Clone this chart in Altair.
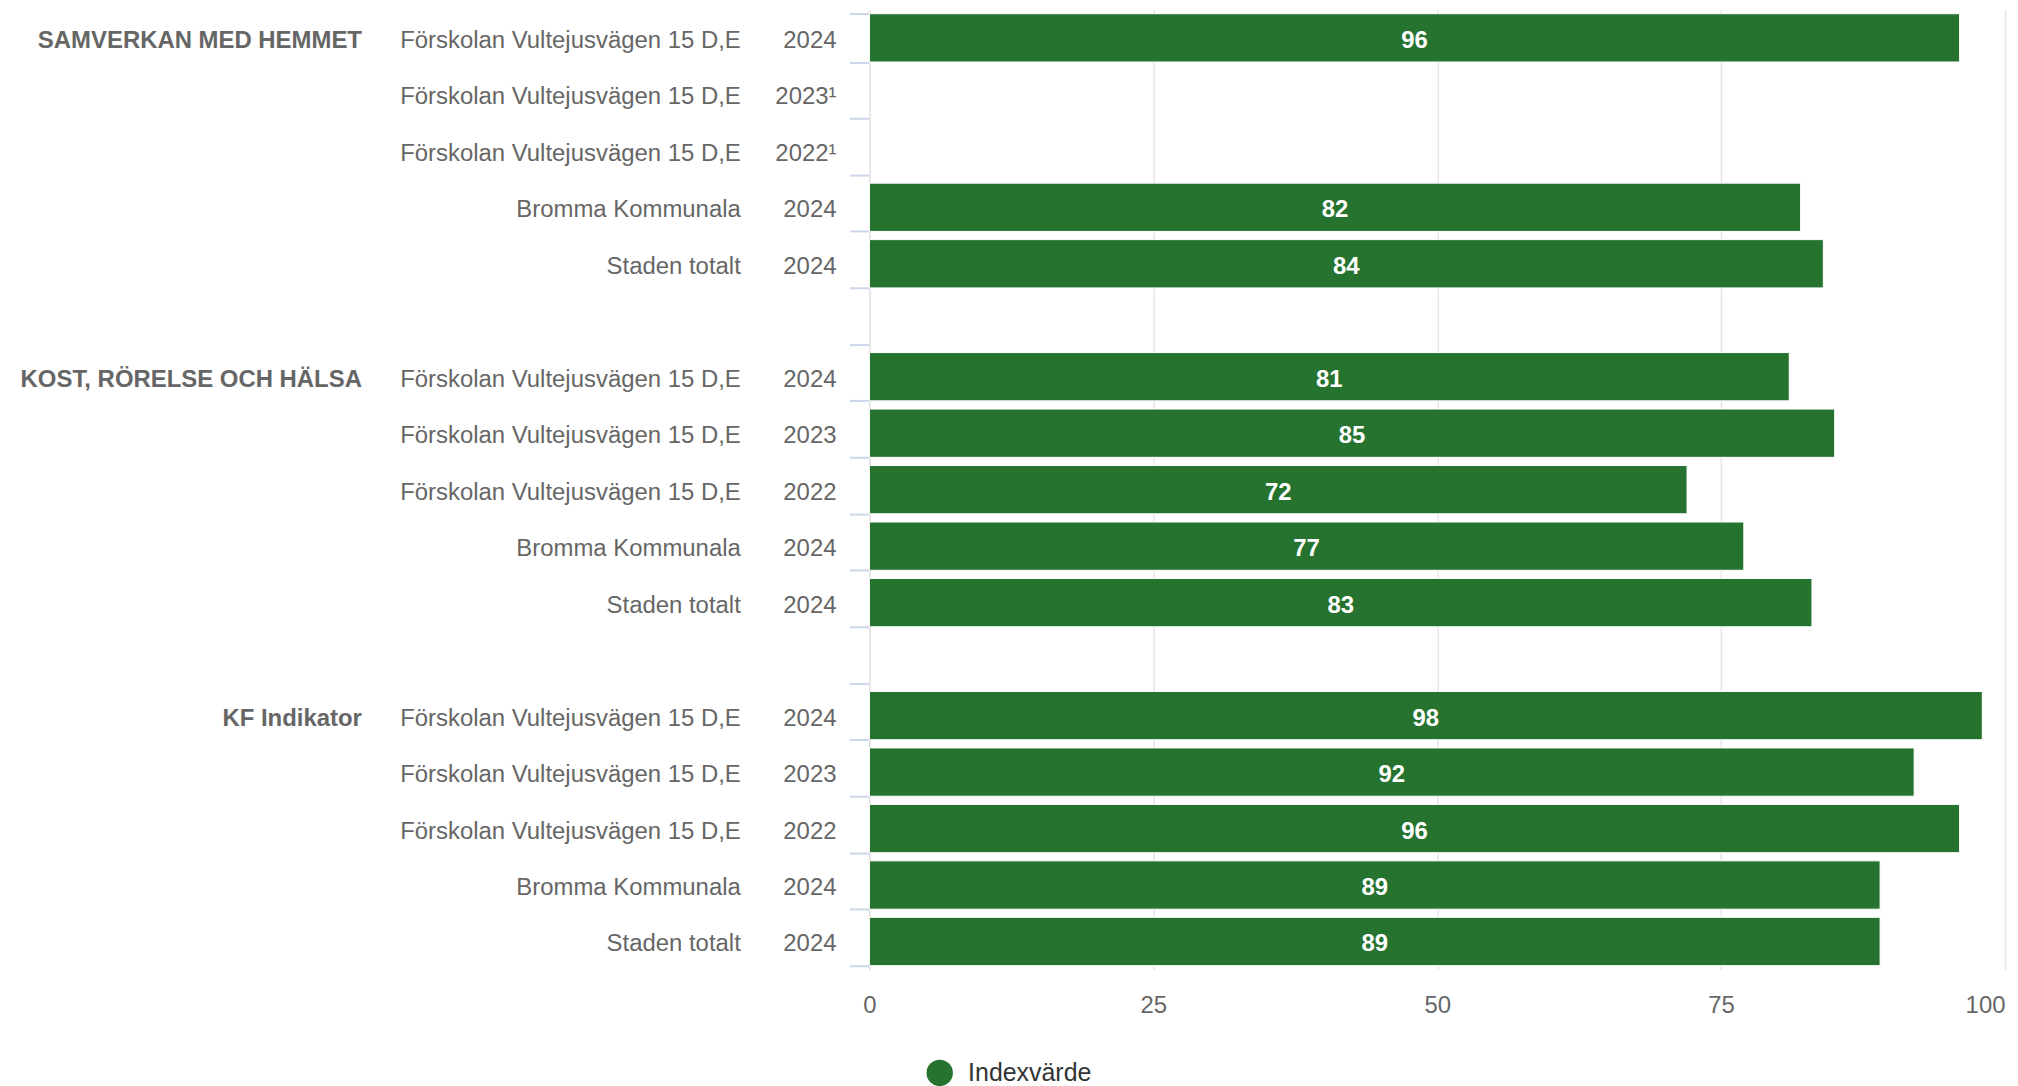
import altair as alt
import pandas as pd

groups = ["SAMVERKAN MED HEMMET", "KOST, RÖRELSE OCH HÄLSA", "KF Indikator"]
units = [
    "Förskolan Vultejusvägen 15 D,E",
    "Förskolan Vultejusvägen 15 D,E",
    "Förskolan Vultejusvägen 15 D,E",
    "Bromma Kommunala",
    "Staden totalt",
]
years = [
    ["2024", "2023¹", "2022¹", "2024", "2024"],
    ["2024", "2023", "2022", "2024", "2024"],
    ["2024", "2023", "2022", "2024", "2024"],
]
values = [
    [96, None, None, 82, 84],
    [81, 85, 72, 77, 83],
    [98, 92, 96, 89, 89],
]
series_name = "Indexvärde"
x_ticks = [0, 25, 50, 75, 100]

records = []
row = 0
for gi, g in enumerate(groups):
    for j in range(len(units)):
        records.append({"row": row, "group": g if j == 0 else "", "unit": units[j],
                        "year": years[gi][j], "value": values[gi][j], "serie": series_name})
        row += 1
    if gi < len(groups) - 1:
        records.append({"row": row, "group": "", "unit": "", "year": "",
                        "value": None, "serie": series_name})
        row += 1
n_rows = row
df = pd.DataFrame(records)

FONT = "Liberation Sans"
GREEN = "#267330"

base = alt.Chart(df)

y_scale = alt.Scale(domain=list(range(n_rows)), paddingInner=0.145, paddingOuter=0.0725)
y_enc = alt.Y(
    "row:O",
    scale=y_scale,
    axis=alt.Axis(labels=False, title=None, tickBand="extent", ticks=True, tickSize=20,
                  tickColor="#ccd6eb", tickWidth=2, domain=True, domainColor="#e6e6e6",
                  domainWidth=2, grid=False),
)
x_enc = alt.X(
    "value:Q",
    title=None,
    scale=alt.Scale(domain=[0, 100], nice=False, zero=True),
    axis=alt.Axis(values=x_ticks, title=None, grid=True, gridColor="#e6e6e6", gridWidth=1.5,
                  domain=False, ticks=False, labelFontSize=24, labelColor="#666666",
                  labelPadding=24, labelFont=FONT,
                  labelAlign=alt.ExprRef(expr="datum.value == 100 ? 'right' : 'center'")),
)

bars = base.mark_bar(stroke="white", strokeWidth=1).encode(
    x=x_enc,
    y=y_enc,
    color=alt.Color(
        "serie:N",
        scale=alt.Scale(range=[GREEN]),
        legend=alt.Legend(title=None, orient="none", legendX=57, legendY=1053,
                          symbolType="circle", symbolSize=700, symbolStrokeWidth=0,
                          symbolOpacity=1, labelFontSize=25, labelColor="#333333",
                          labelFont=FONT, labelOffset=15, padding=0),
    ),
)

bar_labels = base.transform_filter("isValid(datum.value)").transform_calculate(
    mid="datum.value / 2"
).mark_text(color="white", fontWeight="bold", fontSize=24, baseline="middle", dy=3,
            font=FONT).encode(
    x=alt.X("mid:Q", title=None),
    y=alt.Y("row:O"),
    text=alt.Text("value:Q", format=".0f"),
)


def col_text(field, xpx, bold=False):
    return base.mark_text(align="right", baseline="middle", dy=3, fontSize=24,
                          color="#666666", fontWeight="bold" if bold else "normal",
                          font=FONT).encode(
        x=alt.value(xpx),
        y=alt.Y("row:O"),
        text=alt.Text(f"{field}:N"),
    )


t_group = col_text("group", -509, bold=True)
t_unit = col_text("unit", -129)
t_year = col_text("year", -33)

chart = alt.layer(bars, bar_labels, t_group, t_unit, t_year).properties(
    width=1139,
    height=963,
    autosize=alt.AutoSizeParams(type="none"),
    padding={"left": 864, "top": 0, "right": 5, "bottom": 115},
).configure(font=FONT).configure_view(strokeWidth=0)

chart.save("out.html", embed_options={"renderer": "svg", "actions": False})
